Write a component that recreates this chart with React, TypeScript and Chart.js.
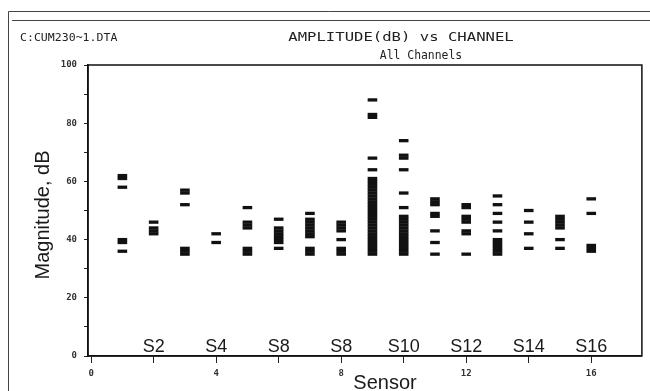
import React, { useEffect, useRef } from 'react';
import { Chart, registerables } from 'chart.js';

Chart.register(...registerables);

// ---- data (amplitude hits in dB, per channel) ----
const channels = [1, 2, 3, 4, 5, 6, 7, 8, 9, 10, 11, 12, 13, 14, 15, 16];
const ch01 = [62, 61, 58, 40, 39, 36];
const ch02 = [46, 44, 43, 42];
const ch03 = [57, 56, 52, 37, 36, 35];
const ch04 = [42, 39];
const ch05 = [51, 46, 45, 44, 37, 36, 35];
const ch06 = [47, 44, 43, 42, 41, 40, 39, 37];
const ch07 = [49, 47, 46, 45, 44, 43, 42, 41, 37, 36, 35];
const ch08 = [46, 45, 44, 43, 40, 37, 36, 35];
const ch09 = [88, 83, 82, 68, 64, 61, 60, 59, 58, 57, 56, 55, 54, 53, 52, 51, 50, 49, 48, 47, 46, 45, 44, 43, 42, 41, 40, 39, 38, 37, 36, 35];
const ch10 = [74, 69, 68, 64, 56, 51, 48, 47, 46, 45, 44, 43, 42, 41, 40, 39, 38, 37, 36, 35];
const ch11 = [54, 53, 52, 49, 48, 43, 39, 35];
const ch12 = [52, 51, 48, 47, 46, 43, 42, 35];
const ch13 = [55, 52, 49, 46, 43, 40, 39, 38, 37, 36, 35];
const ch14 = [50, 46, 42, 37];
const ch15 = [48, 47, 46, 45, 44, 40, 37];
const ch16 = [54, 49, 38, 37, 36];
const channelHits = [ch01, ch02, ch03, ch04, ch05, ch06, ch07, ch08, ch09, ch10, ch11, ch12, ch13, ch14, ch15, ch16];

const xTickValues = [0, 2, 4, 6, 8, 10, 12, 14, 16];
const xTickLabels = ['0', '', '4', '', '8', '', '12', '', '16'];
const yTickValues = [0, 10, 20, 30, 40, 50, 60, 70, 80, 90, 100];
const yTickLabels = ['0', '', '20', '', '40', '', '60', '', '80', '', '100'];
const sensorPositions = [2, 4, 6, 8, 10, 12, 14, 16];
const sensorLabels = ['S2', 'S4', 'S8', 'S8', 'S10', 'S12', 'S14', 'S16'];

const fileLabel = 'C:CUM230~1.DTA';
const chartTitle = 'AMPLITUDE(dB) vs CHANNEL';
const chartSubtitle = 'All Channels';
const xAxisTitle = 'Sensor';
const yAxisTitle = 'Magnitude, dB';

const INK = '#111';
const MONO = '"DejaVu Sans Mono", "Liberation Mono", monospace';
const SANS = '"Liberation Sans", Arial, sans-serif';

function drawStretched(ctx: CanvasRenderingContext2D, text: string, x: number, y: number, sx: number) {
  ctx.save();
  ctx.translate(x, y);
  ctx.scale(sx, 1);
  ctx.textAlign = 'center';
  ctx.fillText(text, 0, 0);
  ctx.restore();
}

const decorPlugin = {
  id: 'decor',
  afterDraw(chart: any) {
    const { ctx, chartArea, scales } = chart;
    ctx.save();
    // plot frame
    ctx.strokeStyle = INK;
    ctx.lineWidth = 1.5;
    ctx.strokeRect(chartArea.left, chartArea.top, chartArea.right - chartArea.left, chartArea.bottom - chartArea.top);

    // outer page frame
    ctx.strokeStyle = '#444';
    ctx.lineWidth = 1;
    ctx.beginPath();
    ctx.moveTo(8.5, 391);
    ctx.lineTo(8.5, 11.5);
    ctx.lineTo(650, 11.5);
    ctx.moveTo(12, 20.5);
    ctx.lineTo(650, 20.5);
    ctx.stroke();

    // header texts
    ctx.fillStyle = '#222';
    ctx.textBaseline = 'alphabetic';
    ctx.font = `11px ${MONO}`;
    ctx.textAlign = 'left';
    ctx.save();
    ctx.translate(20, 41);
    ctx.scale(1.05, 1);
    ctx.fillText(fileLabel, 0, 0);
    ctx.restore();
    ctx.font = `12px ${MONO}`;
    drawStretched(ctx, chartTitle, 401, 41, 1.3);
    drawStretched(ctx, chartSubtitle, 421, 59, 0.95);

    // sensor labels
    ctx.fillStyle = '#1a1a1a';
    ctx.font = `18px ${SANS}`;
    ctx.textAlign = 'center';
    const xs = scales.x;
    sensorPositions.forEach((p, i) => {
      ctx.fillText(sensorLabels[i], xs.getPixelForValue(p), 352);
    });

    // axis titles
    ctx.font = `20px ${SANS}`;
    ctx.fillText(xAxisTitle, 385, 389);
    ctx.save();
    ctx.translate(43, 215);
    ctx.rotate(-Math.PI / 2);
    ctx.textBaseline = 'middle';
    ctx.fillText(yAxisTitle, 0, 0);
    ctx.restore();
    ctx.restore();
  },
};

export default function App() {
  const ref = useRef<HTMLCanvasElement | null>(null);
  useEffect(() => {
    if (!ref.current) return;
    const points = channels.flatMap((ch, i) => channelHits[i].map((v) => ({ x: ch, y: v })));
    const chart = new Chart(ref.current, {
      type: 'scatter',
      data: {
        datasets: [
          {
            data: points,
            pointStyle: 'line',
            pointRadius: 4.8,
            pointHoverRadius: 4.8,
            borderWidth: 3.3,
            borderColor: INK,
            backgroundColor: INK,
          },
        ],
      },
      options: {
        animation: false,
        responsive: false,
        maintainAspectRatio: false,
        layout: { padding: { top: 65, right: 6, left: 0, bottom: 0 } },
        plugins: { legend: { display: false }, tooltip: { enabled: false } },
        scales: {
          x: {
            type: 'linear',
            min: -0.1,
            max: 17.62,
            afterFit: (s: any) => {
              s.height = 35;
            },
            afterBuildTicks: (s: any) => {
              s.ticks = xTickValues.map((v) => ({ value: v }));
            },
            ticks: {
              autoSkip: false,
              maxRotation: 0,
              padding: 5,
              color: '#333',
              font: { family: MONO, size: 9, weight: 'bold' },
              callback: (_v: any, i: number) => xTickLabels[i],
            },
            grid: { drawOnChartArea: false, drawTicks: true, tickLength: 7, color: '#222' },
            border: { display: true, color: INK, width: 1.5 },
          },
          y: {
            type: 'linear',
            min: 0,
            max: 100,
            afterFit: (s: any) => {
              s.width = 88;
            },
            afterBuildTicks: (s: any) => {
              s.ticks = yTickValues.map((v) => ({ value: v }));
            },
            ticks: {
              autoSkip: false,
              padding: 7,
              color: '#333',
              font: { family: MONO, size: 9, weight: 'bold' },
              callback: (_v: any, i: number) => yTickLabels[i],
            },
            grid: { drawOnChartArea: false, drawTicks: true, tickLength: 4, color: '#222' },
            border: { display: true, color: INK, width: 1.5 },
          },
        },
      },
      plugins: [decorPlugin],
    });
    return () => chart.destroy();
  }, []);

  return (
    <div style={{ position: 'fixed', left: 0, top: 0, width: 650, height: 391, background: '#fff' }}>
      <canvas ref={ref} width={650} height={391} style={{ width: 650, height: 391, display: 'block' }} />
    </div>
  );
}
